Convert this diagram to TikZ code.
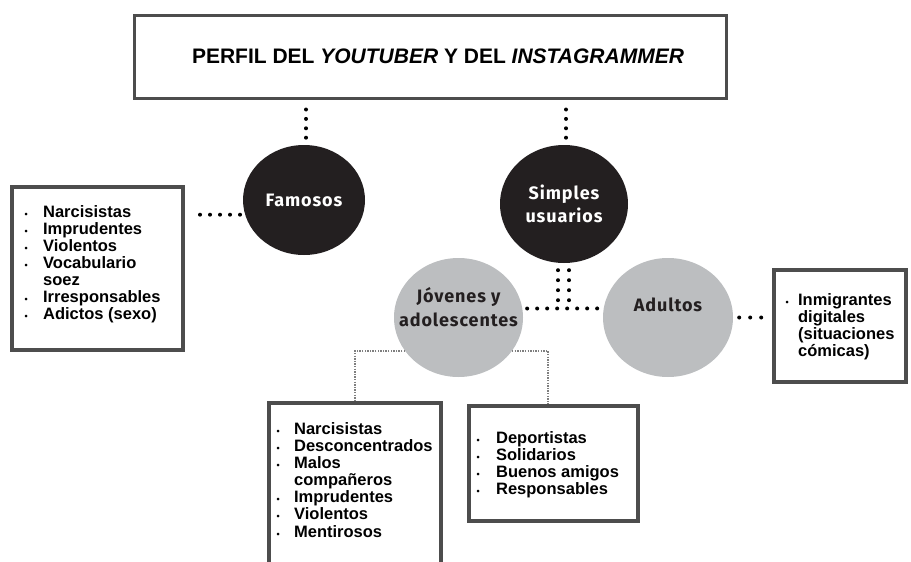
\documentclass[tikz,border=0pt]{standalone}
\usepackage{fontspec}
\setmainfont{Liberation Sans}
\newfontfamily\dinfont[LetterSpace=5]{Fira Sans}
\usetikzlibrary{shapes,calc}
\definecolor{circdark}{HTML}{231F20}
\definecolor{circgray}{HTML}{BCBEC0}
\definecolor{boxedge}{HTML}{4D4D4D}
\definecolor{linkgray}{HTML}{7F7F7F}
\tikzset{%
  titlebox/.style  = {draw=boxedge, line width=3pt, rectangle, inner sep=0pt},
  listbox/.style   = {draw=boxedge, line width=4pt, rectangle, inner sep=0pt},
  darkcirc/.style  = {ellipse, fill=circdark, inner sep=0pt, text=white,
    font=\dinfont\bfseries\fontsize{18}{23}\selectfont, align=center},
  graycirc/.style  = {ellipse, fill=circgray, inner sep=0pt},
  circtext/.style  = {text=circdark, inner sep=0pt, align=center,
    font=\dinfont\bfseries\fontsize{18}{24}\selectfont},
  listtext/.style  = {anchor=base west, inner sep=0pt,
    font=\bfseries\fontsize{16.5}{17}\selectfont}, % bullet lists
  bigdots/.style   = {draw=black, line width=4pt, line cap=round,
    dash pattern=on 0pt off #1},
  bigdots/.default = 10pt,
  thindots/.style  = {draw=linkgray, line width=1.3pt,
    dash pattern=on 1.3pt off 1.3pt} % links to the lists
}
\newcommand{\bul}{{\fontsize{9}{9}\selectfont\textbullet}}
\newcommand{\blist}[3][1]{{\renewcommand{\arraystretch}{#1}%
  \begin{tabular}[t]{@{}l@{\hspace{#2}}l@{}}#3\end{tabular}}}

\begin{document}
\begin{tikzpicture}[x=1pt, y=-1pt]
        \useasboundingbox (0,0) rectangle (911,562);
        \clip (0,0) rectangle (911,562);
        \draw
            node [titlebox, minimum width=592pt, minimum height=83pt] (title) at (430,56.5) {}
            node [darkcirc, minimum width=122pt, minimum height=110pt] (fam) at (304,200) {Famosos}
            node [darkcirc, minimum width=128pt, minimum height=118pt] (simp) at (564,204) {Simples\\usuarios}
            node [graycirc, minimum width=129pt, minimum height=119pt] (jov) at (458.5,317.5) {}
            node [graycirc, minimum width=130pt, minimum height=119pt] (adu) at (668,317.5) {}
            node [listbox, minimum width=171pt, minimum height=163pt] (famlist) at (97.5,268.5) {}
            node [listbox, minimum width=172pt, minimum height=200pt] (badlist) at (355,503) {}
            node [listbox, minimum width=169pt, minimum height=115pt] (goodlist) at (553.5,463.5) {}
            node [listbox, minimum width=132pt, minimum height=112pt] (adulist) at (840,326) {};

        \node [inner sep=0pt, font=\bfseries\fontsize{21}{25}\selectfont] (ttl) at ([xshift=8pt]title.center)
            {PERFIL DEL \textit{YOUTUBER} Y DEL \textit{INSTAGRAMMER}};
        \node [circtext] (jovtxt) at ([yshift=10.5pt]jov.center) {J\'ovenes y\\adolescentes};
        \node [circtext] (adutxt) at ([yshift=12.5pt]adu.center) {Adultos};

        \node [listtext] (famitems) at ([shift={(14.4,32.7)}]famlist.north west)
            {\blist{15.4pt}{\bul & Narcisistas\\ \bul & Imprudentes\\ \bul & Violentos\\
             \bul & Vocabulario\\ & soez\\ \bul & Irresponsables\\ \bul & Adictos (sexo)}};
        \node [listtext] (baditems) at ([shift={(9.4,33.75)}]badlist.north west)
            {\blist{14.4pt}{\bul & Narcisistas\\ \bul & Desconcentrados\\ \bul & Malos\\
             & compa\~neros\\ \bul & Imprudentes\\ \bul & Violentos\\ \bul & Mentirosos}};
        \node [listtext] (gooditems) at ([shift={(9.4,39.75)}]goodlist.north west)
            {\blist[0.97]{16.4pt}{\bul & Deportistas\\ \bul & Solidarios\\
             \bul & Buenos amigos\\ \bul & Responsables}};
        \node [listtext] (aduitems) at ([shift={(13.4,37.75)}]adulist.north west)
            {\blist[0.97]{9.4pt}{\bul & Inmigrantes\\ & digitales\\ & (situaciones\\ & c\'omicas)}};

        \draw[bigdots=9.4pt, shorten <=10pt] ([xshift=2pt]fam.north |- title.south) -- ([xshift=2pt]fam.north);
        \draw[bigdots=9.4pt, shorten <=10pt] ([xshift=2pt]simp.north |- title.south) -- ([xshift=2pt]simp.north);
        \draw[bigdots, shorten <=15pt, shorten >=3pt] (famlist.east |- fam.194) -- (fam.194);
        \draw[bigdots, shorten <=7pt, shorten >=8pt] ([xshift=-6pt]simp.south) -- ([xshift=-6pt]simp.south |- jov.8);
        \draw[bigdots, shorten <=7pt, shorten >=8pt] ([xshift=5pt]simp.south) -- ([xshift=5pt]simp.south |- jov.8);
        \draw[bigdots, shorten <=4.7pt, shorten >=5pt] (jov.8) -- (adu.172);
        \draw[bigdots=11pt, shorten <=6pt, shorten >=10pt] (adu.east) -- (adu.east -| adulist.west);
        \draw[thindots] (jov.212) -- (jov.212 -| badlist.north) -- (badlist.north);
        \draw[thindots] (jov.328) -| ([xshift=-5.5pt]goodlist.north);
\end{tikzpicture}
\end{document}
